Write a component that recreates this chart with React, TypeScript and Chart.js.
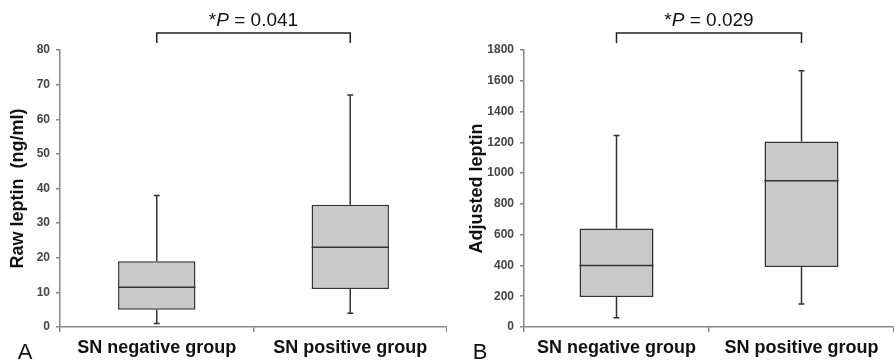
import { useEffect, useRef } from "react";
import { Chart, registerables } from "chart.js";

Chart.register(...registerables);
Chart.defaults.font.family = "'Liberation Sans', Arial, sans-serif";

const categories = ["SN negative group", "SN positive group"];

// Panel A: Raw leptin (ng/ml)
const rawMin = [1, 4];
const rawQ1 = [5, 11];
const rawMedian = [11.5, 23];
const rawQ3 = [19, 35.3];
const rawMax = [38, 67];
const rawAxisMax = 80;
const rawStep = 10;
const rawTitle = "Raw leptin  (ng/ml)";
const rawP = "0.041";

// Panel B: Adjusted leptin
const adjMin = [60, 150];
const adjQ1 = [195, 390];
const adjMedian = [400, 950];
const adjQ3 = [640, 1205];
const adjMax = [1245, 1665];
const adjAxisMax = 1800;
const adjStep = 200;
const adjTitle = "Adjusted leptin";
const adjP = "0.029";

const FONT = "'Liberation Sans', Arial, sans-serif";

const boxPlugin = {
  id: "boxWhiskers",
  afterDatasetsDraw(chart: any, _args: any, opts: any) {
    const { ctx } = chart;
    const y = chart.scales.y;
    const meta = chart.getDatasetMeta(0);
    ctx.save();
    ctx.strokeStyle = "#333333";
    ctx.lineWidth = 1.5;
    meta.data.forEach((bar: any, i: number) => {
      const { x, width } = bar.getProps(["x", "width"], true);
      const yMax = y.getPixelForValue(opts.max[i]);
      const yQ3 = y.getPixelForValue(opts.q3[i]);
      const yQ1 = y.getPixelForValue(opts.q1[i]);
      const yMin = y.getPixelForValue(opts.min[i]);
      const yMed = y.getPixelForValue(opts.median[i]);
      const cap = 3;
      ctx.beginPath();
      ctx.moveTo(x, yQ3);
      ctx.lineTo(x, yMax);
      ctx.moveTo(x - cap, yMax);
      ctx.lineTo(x + cap, yMax);
      ctx.moveTo(x, yQ1);
      ctx.lineTo(x, yMin);
      ctx.moveTo(x - cap, yMin);
      ctx.lineTo(x + cap, yMin);
      ctx.stroke();
      ctx.beginPath();
      ctx.moveTo(x - width / 2, yMed);
      ctx.lineTo(x + width / 2, yMed);
      ctx.stroke();
    });
    ctx.restore();
  },
};

const annotatePlugin = {
  id: "annotate",
  afterDraw(chart: any, _args: any, opts: any) {
    const { ctx } = chart;
    const xs = chart.scales.x;
    const x0 = xs.getPixelForValue(0);
    const x1 = xs.getPixelForValue(1);
    ctx.save();
    // bracket
    ctx.strokeStyle = "#222222";
    ctx.lineWidth = 1.5;
    ctx.beginPath();
    ctx.moveTo(x0, 43);
    ctx.lineTo(x0, 33);
    ctx.lineTo(x1, 33);
    ctx.lineTo(x1, 43);
    ctx.stroke();
    // p text
    const parts = [
      { t: "*", f: `19px ${FONT}` },
      { t: "P", f: `italic 19px ${FONT}` },
      { t: " = " + opts.p, f: `19px ${FONT}` },
    ];
    let total = 0;
    parts.forEach((p) => {
      ctx.font = p.f;
      total += ctx.measureText(p.t).width;
    });
    let cx = (x0 + x1) / 2 - total / 2;
    ctx.fillStyle = "#111111";
    ctx.textBaseline = "alphabetic";
    ctx.textAlign = "left";
    parts.forEach((p) => {
      ctx.font = p.f;
      ctx.fillText(p.t, cx, 26);
      cx += ctx.measureText(p.t).width;
    });
    // panel letter
    ctx.font = `22px ${FONT}`;
    ctx.textAlign = "center";
    ctx.fillText(opts.letter, opts.letterX, 359);
    ctx.restore();
  },
};

function buildConfig(
  mins: number[],
  q1: number[],
  med: number[],
  q3: number[],
  maxs: number[],
  axisMax: number,
  step: number,
  title: string,
  p: string,
  letter: string,
  letterX: number,
  yWidth: number,
  titlePad: number,
  rightPad: number
): any {
  return {
    type: "bar",
    data: {
      labels: categories,
      datasets: [
        {
          data: q1.map((v, i) => [v, q3[i]]),
          backgroundColor: "#c9c9c9",
          borderColor: "#333333",
          borderWidth: 1.5,
          borderSkipped: false,
          barPercentage: 0.4,
          categoryPercentage: 1,
        },
      ],
    },
    options: {
      responsive: false,
      animation: false,
      layout: { padding: { top: 50, right: rightPad, left: 0, bottom: 0 } },
      plugins: {
        legend: { display: false },
        tooltip: { enabled: false },
        boxWhiskers: { min: mins, q1, median: med, q3, max: maxs },
        annotate: { p, letter, letterX },
      },
      scales: {
        x: {
          grid: {
            display: true,
            drawOnChartArea: false,
            drawTicks: true,
            tickLength: 5,
            color: "#888888",
            lineWidth: 1.5,
            offset: true,
          },
          border: { display: true, color: "#888888", width: 1.5 },
          ticks: {
            color: "#111111",
            font: { size: 18, weight: "bold", family: FONT },
            padding: 5,
            maxRotation: 0,
          },
          afterFit: (s: any) => {
            s.height = 33;
          },
        },
        y: {
          min: 0,
          max: axisMax,
          ticks: {
            stepSize: step,
            color: "#444444",
            font: { size: 12, weight: "bold", family: FONT },
            padding: 6,
            callback: (v: any) => String(v),
          },
          grid: {
            display: true,
            drawOnChartArea: false,
            drawTicks: true,
            tickLength: 4,
            color: "#888888",
            lineWidth: 1.5,
          },
          border: { display: true, color: "#888888", width: 1.5 },
          title: {
            display: true,
            text: title,
            color: "#111111",
            font: { size: 18, weight: "bold", family: FONT },
            padding: { top: titlePad, bottom: 0 },
          },
          afterFit: (s: any) => {
            s.width = yWidth;
          },
        },
      },
    },
    plugins: [boxPlugin, annotatePlugin],
  };
}

export default function App() {
  const refA = useRef<HTMLCanvasElement>(null);
  const refB = useRef<HTMLCanvasElement>(null);

  useEffect(() => {
    const a = new Chart(
      refA.current as HTMLCanvasElement,
      buildConfig(rawMin, rawQ1, rawMedian, rawQ3, rawMax, rawAxisMax, rawStep, rawTitle, rawP, "A", 25, 60, 7, -3)
    );
    const b = new Chart(
      refB.current as HTMLCanvasElement,
      buildConfig(adjMin, adjQ1, adjMedian, adjQ3, adjMax, adjAxisMax, adjStep, adjTitle, adjP, "B", 33, 77, 19, -12)
    );
    return () => {
      a.destroy();
      b.destroy();
    };
  }, []);

  return (
    <div
      style={{
        position: "absolute",
        left: 0,
        top: 0,
        width: 894,
        height: 360,
        background: "#ffffff",
        display: "flex",
        overflow: "hidden",
      }}
    >
      <canvas ref={refA} width={447} height={360} style={{ width: 447, height: 360, display: "block" }} />
      <canvas ref={refB} width={447} height={360} style={{ width: 447, height: 360, display: "block" }} />
    </div>
  );
}
